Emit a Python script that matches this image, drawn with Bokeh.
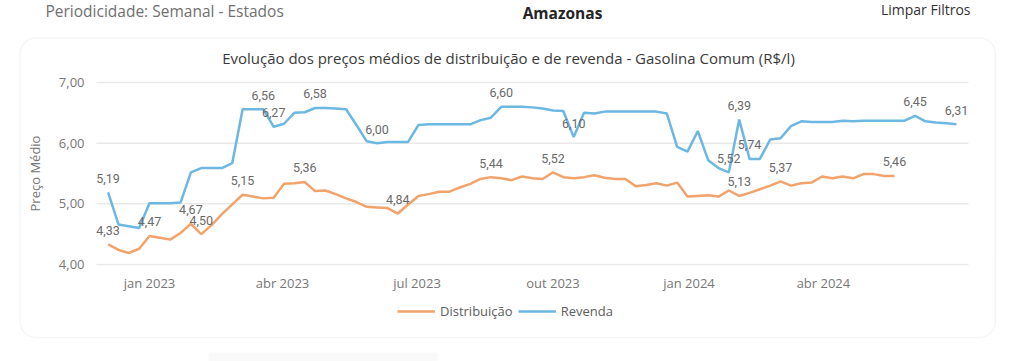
import pandas as pd
from bokeh.plotting import figure
from bokeh.models import (Range1d, FixedTicker, Legend, LegendItem, ColumnDataSource, Label,
                          BoxAnnotation)
from bokeh.core.properties import value
from bokeh.embed import file_html
from bokeh.resources import INLINE

# ---------------- data ----------------
first_week = "2022-12-04"
revenda = [5.19, 4.66, 4.63, 4.60, 5.01, 5.01, 5.01, 5.02, 5.52, 5.59, 5.59, 5.59, 5.67, 6.56, 6.56,
           6.56, 6.27, 6.32, 6.50, 6.51, 6.58,
           6.58, 6.57, 6.56, 6.30, 6.03, 6.00, 6.02, 6.02, 6.02, 6.30, 6.31, 6.31, 6.31, 6.31, 6.31,
           6.38, 6.42, 6.60, 6.60, 6.60, 6.59,
           6.57, 6.54, 6.53, 6.10, 6.50, 6.49, 6.52, 6.52, 6.52, 6.52, 6.52, 6.52, 6.49, 5.94, 5.86,
           6.20, 5.72, 5.59, 5.52, 6.39, 5.74, 5.74,
           6.06, 6.08, 6.28, 6.36, 6.35, 6.35, 6.35, 6.37, 6.36, 6.37, 6.37, 6.37, 6.37, 6.37, 6.45,
           6.36, 6.34, 6.33, 6.31]
distribuicao = [4.33, 4.24, 4.19, 4.26, 4.47, 4.44, 4.41, 4.52, 4.67, 4.50, 4.65, 4.83, 4.99, 5.15,
                5.12, 5.09, 5.10, 5.33, 5.34, 5.36, 5.21,
                5.22, 5.16, 5.09, 5.03, 4.95, 4.94, 4.93, 4.84, 4.99, 5.13, 5.16, 5.20, 5.20, 5.27,
                5.33, 5.41, 5.44, 5.42, 5.39, 5.45, 5.42,
                5.41, 5.52, 5.44, 5.42, 5.44, 5.47, 5.43, 5.41, 5.41, 5.29, 5.31, 5.34, 5.30, 5.35,
                5.12, 5.13, 5.14, 5.12, 5.22, 5.13, 5.18, 5.24,
                5.30, 5.37, 5.30, 5.34, 5.35, 5.45, 5.42, 5.45, 5.42, 5.49, 5.49, 5.46, 5.46]
revenda_labelled = [0, 15, 16, 20, 26, 38, 45, 60, 61, 62, 78, 82]
distrib_labelled = [0, 4, 8, 9, 13, 19, 28, 37, 43, 61, 65, 76]
tick_dates = ["2023-01-01", "2023-04-01", "2023-07-01", "2023-10-01", "2024-01-01", "2024-04-01"]
tick_labels = ["jan 2023", "abr 2023", "jul 2023", "out 2023", "jan 2024", "abr 2024"]
y_ticks = [4, 5, 6, 7]
y_tick_labels = ["4,00", "5,00", "6,00", "7,00"]

ORANGE = "#F2A36B"
BLUE = "#6DB7E3"
FONT = "Open Sans"


def ms(d):
    return int(pd.Timestamp(d).value // 1_000_000)


x_rev = [ms(d) for d in pd.date_range(first_week, periods=len(revenda), freq="7D")]
x_dis = [ms(d) for d in pd.date_range(first_week, periods=len(distribuicao), freq="7D")]

# ---------------- geometry: the frame is the whole canvas ----------------
W, H = 1024, 361
DAY = 86_400_000
T0 = ms("2023-01-01")
DAYS_PER_PX = 590.0 / 872.0          # plot area 96..968 px <-> -35.86..554.1 days
PX_PER_UNIT = 182.0 / 3.0            # 7.00 at 82 px, 4.00 at 264 px


def px(page_x):
    return T0 + (-35.86 + (page_x - 96) * DAYS_PER_PX) * DAY


def py(page_y):
    return 7.0 - (page_y - 82) / PX_PER_UNIT


p = figure(width=W, height=H, output_backend="svg", toolbar_location=None,
           x_range=Range1d(px(0), px(W)), y_range=Range1d(py(H), py(0)),
           min_border=0, min_border_left=0, min_border_right=0,
           min_border_top=0, min_border_bottom=0)
p.outline_line_color = None
p.background_fill_color = "white"
p.border_fill_color = "white"
p.xgrid.visible = False
p.ygrid.visible = False

# card and bottom bar
p.add_layout(BoxAnnotation(left=px(19.5), right=px(995), top=py(37.5), bottom=py(337),
                           fill_color=None, line_color="#dedede", line_width=1.5,
                           border_radius=16, level="underlay"))
p.add_layout(BoxAnnotation(left=px(208), right=px(437), top=py(352), bottom=py(H),
                           fill_color="#f0f0f0", line_color=None, level="underlay"))

# grid lines limited to plot area
p.segment(x0=[px(96)] * len(y_ticks), x1=[px(968)] * len(y_ticks), y0=y_ticks, y1=y_ticks,
          line_color="#e9e9e9", line_width=1.5)

# axes pinned inside the canvas
p.xaxis.fixed_location = py(266)
p.yaxis.fixed_location = px(96)
p.xaxis.bounds = (px(96), px(968))
p.yaxis.bounds = (py(266), py(80))
p.xaxis.ticker = FixedTicker(ticks=[ms(d) for d in tick_dates])
p.xaxis.major_label_overrides = {ms(d): lab for d, lab in zip(tick_dates, tick_labels)}
p.yaxis.ticker = FixedTicker(ticks=y_ticks)
p.yaxis.major_label_overrides = {t: lab for t, lab in zip(y_ticks, y_tick_labels)}
for ax in (p.xaxis, p.yaxis):
    ax.axis_line_color = None
    ax.major_tick_line_color = None
    ax.minor_tick_line_color = None
    ax.major_tick_out = 0
    ax.major_tick_in = 0
    ax.major_label_text_font = FONT
    ax.major_label_text_font_size = "13px"
    ax.major_label_text_color = "#777777"
p.xaxis.major_label_standoff = 7
p.yaxis.major_label_standoff = 12
p.yaxis.axis_label = "Preço Médio"
p.yaxis.axis_label_text_font = FONT
p.yaxis.axis_label_text_font_size = "13px"
p.yaxis.axis_label_text_font_style = "normal"
p.yaxis.axis_label_text_color = "#777777"
p.yaxis.axis_label_standoff = 12

r_d = p.line(x_dis, distribuicao, line_color=ORANGE, line_width=2.5)
r_r = p.line(x_rev, revenda, line_color=BLUE, line_width=2.5)


def fmt(v):
    return f"{v:.2f}".replace(".", ",")


lab_src = ColumnDataSource(dict(
    x=[x_rev[i] for i in revenda_labelled] + [x_dis[i] for i in distrib_labelled],
    y=[revenda[i] for i in revenda_labelled] + [distribuicao[i] for i in distrib_labelled],
    t=[fmt(revenda[i]) for i in revenda_labelled] + [fmt(distribuicao[i]) for i in distrib_labelled],
))
p.text(x="x", y="y", text="t", source=lab_src, y_offset=-14, text_align="center",
       text_baseline="middle", text_font=value("Roboto"), text_font_size="12.5px",
       text_color="#6a6a6a")

legend = Legend(items=[LegendItem(label="Distribuição", renderers=[r_d]),
                       LegendItem(label="Revenda", renderers=[r_r])],
                orientation="horizontal", location=(397, 40),
                margin=0, padding=0, spacing=5, glyph_width=38, glyph_height=20,
                label_standoff=5, label_text_font=FONT, label_text_font_size="13px",
                label_text_color="#606060", border_line_color=None, background_fill_alpha=0)
p.add_layout(legend)


def add_text(txt, page_x, page_y, size, color, align="center", style="normal"):
    p.add_layout(Label(x=px(page_x), y=py(page_y), text=txt, text_align=align,
                       text_baseline="middle", text_font=FONT, text_font_size=size,
                       text_color=color, text_font_style=style))


add_text("Evolução dos preços médios de distribuição e de revenda - Gasolina Comum (R$/l)",
         508, 57, "15px", "#3a3a3a")
add_text("Periodicidade: Semanal - Estados", 45, 10, "15.5px", "#707070", align="left")
add_text("Amazonas", 562, 12, "15.5px", "#252525", style="bold")
add_text("Limpar Filtros", 970, 9, "14px", "#333333", align="right")

open("out.html", "w").write(file_html(p, INLINE))
